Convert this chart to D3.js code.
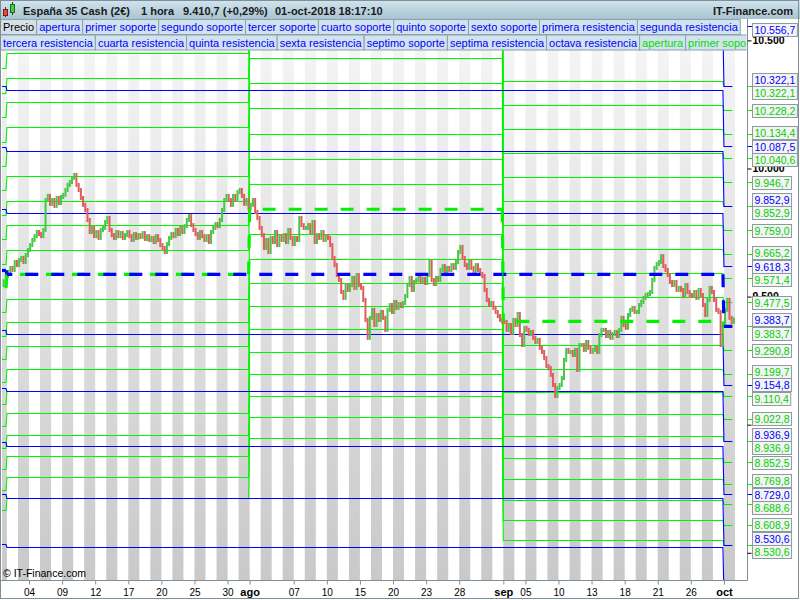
<!DOCTYPE html>
<html><head><meta charset="utf-8">
<script src="https://cdn.jsdelivr.net/npm/d3@7"></script>
<style>body{margin:0;background:#fff}svg{display:block;font-family:"Liberation Sans",Arial,sans-serif}</style>
</head><body><svg id="c" width="800" height="600"></svg>
<script>
// ---------------- DATA ----------------
const instrument = "España 35 Cash (2€)";
const timeframe = "1 hora";
const lastPrice = 9410.7;
const lastChangePct = 0.29;
const timestamp = "01-oct-2018 18:17:10";

// month periods in trading-day units (0 = 2 jul 2018)
const monthNames = ["jun", "jul", "ago", "sep", "oct"];
const monthStart = [-0.45, 0, 22, 45, 65];
const monthEnd = [0, 22, 45, 65, 65.85];

// x axis ticks (trading-day index) and labels
const tickDays = [2, 5, 8, 11, 14, 17, 20, 22, 26, 29, 32, 35, 38, 41, 45, 47, 50, 53, 56, 59, 62, 65];
const tickLabels = ["04","09","12","17","20","25","30","ago","07","10","15","20","23","28","sep","05","10","13","18","21","26","oct"];
const yTicks = [8500, 9000, 9500, 10000, 10500];

// monthly levels (green), one value per month: jun, jul, ago, sep, oct
const greenApertura = [9533, 9587, 9841, 9403, 9383.7];
const greenR1  = [9628.3, 9682.9, 9939.4, 9497.0, 9477.5];
const greenR2  = [9723.7, 9778.7, 10037.8, 9591.1, 9571.4];
const greenR3  = [9819.0, 9874.6, 10136.2, 9685.1, 9665.2];
const greenR4  = [9914.3, 9970.5, 10234.6, 9779.1, 9759.0];
const greenR5  = [10009.7, 10066.4, 10333.1, 9873.2, 9852.9];
const greenR6  = [10105.0, 10162.2, 10431.5, 9967.2, 9946.7];
const greenR7  = [10200.3, 10258.1, 10529.9, 10061.2, 10040.6];
const greenR8  = [10295.6, 10354.0, 10628.3, 10155.2, 10134.4];
const greenR9  = [10391.0, 10449.8, 10726.7, 10249.3, 10228.2];
const greenR10 = [10486.3, 10545.7, 10825.1, 10343.3, 10322.1];
const greenS1  = [9438.6, 9492.1, 9743.6, 9309.9, 9290.8];
const greenS2  = [9346.1, 9399.0, 9648.0, 9218.6, 9199.7];
const greenS3  = [9255.3, 9307.8, 9554.4, 9129.1, 9110.4];
const greenS4  = [9166.3, 9218.3, 9462.5, 9041.3, 9022.8];
const greenS5  = [9079.0, 9130.5, 9372.4, 8955.2, 8936.9];
const greenS6  = [8993.4, 9044.3, 9284.0, 8870.8, 8852.5];
const greenS7  = [8909.3, 8959.8, 9197.2, 8787.9, 8769.8];
const greenS8  = [8826.9, 8876.9, 9112.0, 8706.5, 8688.6];
const greenS9  = [8745.9, 8795.4, 9028.4, 8626.6, 8608.9];
const greenS10 = [8666.4, 8715.5, 8946.4, 8548.2, 8530.6];

// quarterly levels (blue), one value per month: jun, jul, ago, sep, oct
const blueApertura = [9602, 9587, 9587, 9587, 9383.7];
const blueR1 = [9842.1, 9826.7, 9826.7, 9826.7, 9618.3];
const blueR2 = [10082.1, 10066.4, 10066.4, 10066.4, 9852.9];
const blueR3 = [10322.2, 10306.0, 10306.0, 10306.0, 10087.5];
const blueR4 = [10562.2, 10545.7, 10545.7, 10545.7, 10322.1];
const blueR5 = [10802.3, 10785.4, 10785.4, 10785.4, 10556.7];
const blueS1 = [9367.8, 9353.2, 9353.2, 9353.2, 9154.8];
const blueS2 = [9144.8, 9130.5, 9130.5, 9130.5, 8936.9];
const blueS3 = [8932.1, 8918.1, 8918.1, 8918.1, 8729.0];
const blueS4 = [8729.1, 8715.5, 8715.5, 8715.5, 8530.6];
const blueS5 = [8535.1, 8521.8, 8521.8, 8521.8, 8341.1];
const blueS6 = [8349.6, 8336.5, 8336.5, 8336.5, 8159.7];

// price (bar closes, 5 per session; first two = end of 29 jun)
const barsPerDay = 5;
const firstOpen = 9545;
const priceCloses = [
 9560, 9580,
 9596, 9612, 9604, 9635, 9623,  9643, 9651, 9635, 9662, 9682,  9701, 9721, 9736, 9752, 9744,
 9736, 9760, 9877, 9893, 9862,  9877, 9854, 9885, 9865, 9889,  9897, 9916, 9936, 9947, 9963,
 9975, 9936, 9916, 9885, 9858,  9838, 9799, 9752, 9768, 9736,  9752, 9729, 9760, 9768, 9791,
 9807, 9760, 9740, 9729, 9752,  9736, 9748, 9729, 9740, 9752,  9736, 9721, 9744, 9729, 9740,
 9733, 9748, 9725, 9736, 9721,  9729, 9713, 9736, 9721, 9701,  9690, 9674, 9705, 9729, 9744,
 9736, 9760, 9744, 9768, 9752,  9775, 9799, 9814, 9779, 9760,  9744, 9729, 9752, 9736, 9721,
 9736, 9713, 9752, 9768, 9783,  9775, 9799, 9838, 9877, 9893,  9877, 9858, 9893, 9877, 9908,
 9916, 9893, 9862, 9877, 9846,
 9858, 9877, 9830, 9807, 9768,  9740, 9690, 9721, 9674, 9729,  9713, 9752, 9701, 9736, 9721,
 9740, 9713, 9760, 9729, 9705,  9729, 9721, 9807, 9779, 9768,  9768, 9779, 9752, 9791, 9713,
 9740, 9729, 9752, 9721, 9736,  9729, 9701, 9651, 9623, 9584,  9565, 9518, 9495, 9545, 9526,
 9545, 9573, 9534, 9584, 9545,  9534, 9487, 9409, 9339, 9417,  9448, 9389, 9428, 9409, 9440,
 9417, 9370, 9448, 9467, 9440,  9479, 9456, 9471, 9463, 9475,  9502, 9545, 9573, 9526, 9557,
 9565, 9577, 9557, 9569, 9553,  9584, 9635, 9565, 9549, 9573,  9565, 9604, 9619, 9596, 9612,
 9604, 9623, 9612, 9635, 9674,  9694, 9651, 9623, 9612, 9635,  9612, 9596, 9623, 9604, 9588,
 9580, 9526, 9487, 9467, 9475,  9456, 9440, 9424, 9409, 9402,
 9401, 9370, 9389, 9358, 9409,  9389, 9432, 9350, 9311, 9378,  9370, 9354, 9362, 9339, 9323,
 9331, 9300, 9284, 9260, 9229,  9221, 9194, 9155, 9112, 9143,  9155, 9182, 9253, 9292, 9284,
 9284, 9272, 9292, 9214, 9311,  9311, 9292, 9323, 9300, 9284,  9292, 9300, 9284, 9350, 9370,
 9370, 9346, 9362, 9339, 9354,  9362, 9346, 9370, 9417, 9389,  9378, 9428, 9448, 9456, 9440,
 9440, 9467, 9479, 9495, 9506,  9510, 9518, 9565, 9612, 9627,  9635, 9658, 9619, 9604, 9584,
 9557, 9545, 9557, 9526, 9534,  9526, 9502, 9545, 9518, 9506,  9502, 9518, 9495, 9526, 9506,
 9467, 9428, 9487, 9534, 9518,  9487, 9448, 9440, 9311, 9385,
 9448, 9487, 9417, 9401, 9410.7
];

// legend
const legendRow1 = ["Precio","apertura","primer soporte","segundo soporte","tercer soporte","cuarto soporte","quinto soporte","sexto soporte","primera resistencia","segunda resistencia"];
const legendRow1Kind = ["price","blue","blue","blue","blue","blue","blue","blue","blue","blue"];
const legendRow2 = ["tercera resistencia","cuarta resistencia","quinta resistencia","sexta resistencia","septimo soporte","septima resistencia","octava resistencia","apertura","primer soporte"];
const legendRow2Kind = ["blue","blue","blue","blue","blue","blue","blue","green","green"];

// ---------------- CHART ----------------
const W = 800, H = 600;
const plotL = 2, plotR = 746, plotT = 20, plotB = 580;
const GREEN = "#00f400", BLUE = "#0000ff", FRAME = "#7f8f98";
const loc = d3.formatLocale({decimal: ",", thousands: ".", grouping: [3], currency: ["", "€"]});
const fmtLevel = loc.format(",.1f"), fmtTick = loc.format(",.0f"), fmtPct = loc.format("+.2f");

const x = d3.scaleLinear().domain([-0.45, 67]).range([plotL, plotR]);
const y = d3.scaleLinear().domain([8400, 10500]).range([578.4, 40.4]);

const svg = d3.select("#c");
const defs = svg.append("defs");
defs.append("clipPath").attr("id", "plotClip").append("rect")
  .attr("x", plotL).attr("y", plotT).attr("width", plotR - plotL).attr("height", plotB - plotT);
defs.append("clipPath").attr("id", "legClip").append("rect")
  .attr("x", 0).attr("y", 0).attr("width", plotR + 0.5).attr("height", 60);
const sg = defs.append("linearGradient").attr("id", "stripeGrad").attr("gradientUnits", "userSpaceOnUse")
  .attr("x1", 0).attr("x2", 0).attr("y1", 50).attr("y2", 580);
sg.append("stop").attr("offset", 0).attr("stop-color", "#f4f4f4");
sg.append("stop").attr("offset", 1).attr("stop-color", "#c9c9c9");
const hg = defs.append("linearGradient").attr("id", "headGrad").attr("x1", 0).attr("x2", 0).attr("y1", 0).attr("y2", 1);
hg.append("stop").attr("offset", 0).attr("stop-color", "#d2e5ef");
hg.append("stop").attr("offset", 1).attr("stop-color", "#a8c3d0");

svg.append("rect").attr("width", W).attr("height", H).attr("fill", "#fff");

const plot = svg.append("g").attr("clip-path", "url(#plotClip)");

// day stripes
const oddDays = d3.range(-1, 67).filter(d => Math.abs(d) % 2 === 1);
plot.append("g").selectAll("rect").data(oddDays).join("rect")
  .attr("x", d => Math.max(plotL, x(d)))
  .attr("width", d => Math.min(plotR, x(d + 1)) - Math.max(plotL, x(d)))
  .attr("y", 50).attr("height", plotB - 50)
  .attr("fill", "url(#stripeGrad)");

// level lines
const snapY = v => Math.round(y(v)) + 0.5;
function levelPoints(vals) {
  const pts = [];
  vals.forEach((v, m) => {
    pts.push([x(monthStart[m]), snapY(v)]);
    pts.push([x(monthEnd[m]) - 1, snapY(v)]);
  });
  return pts;
}
const line = d3.line();
const greenSeries = [greenS10, greenS9, greenS8, greenS7, greenS6, greenS5, greenS4, greenS3, greenS2, greenS1,
                     greenR1, greenR2, greenR3, greenR4, greenR5, greenR6, greenR7, greenR8, greenR9, greenR10];
const blueSeries = [blueS6, blueS5, blueS4, blueS3, blueS2, blueS1, blueR1, blueR2, blueR3, blueR4, blueR5];

plot.append("g").selectAll("path").data(greenSeries).join("path")
  .attr("d", d => line(levelPoints(d))).attr("fill", "none").attr("stroke", GREEN).attr("stroke-width", 1.1);
plot.append("g").selectAll("path").data(blueSeries).join("path")
  .attr("d", d => line(levelPoints(d))).attr("fill", "none").attr("stroke", BLUE).attr("stroke-width", 1.1);

// price bars
const bars = priceCloses.map((c, k) => ({pos: (k - 1.5) / barsPerDay, o: k === 0 ? firstOpen : priceCloses[k - 1], c}));
plot.append("g").selectAll("rect").data(bars).join("rect")
  .attr("x", d => x(d.pos) - 1).attr("width", 2)
  .attr("y", d => Math.min(y(d.o), y(d.c)) - 2)
  .attr("height", d => Math.abs(y(d.o) - y(d.c)) + 4)
  .attr("fill", d => d.c >= d.o ? "#45c845" : "#e05c5c");

// dashed apertura lines
function dashed(vals, color, phaseFn) {
  const g = plot.append("g").attr("fill", "none").attr("stroke", color).attr("stroke-width", 3.2)
    .attr("stroke-dasharray", "13,13");
  vals.forEach((v, m) => {
    const xs = x(monthStart[m]), xe = x(monthEnd[m]) - 1;
    if (m > 0 && v !== vals[m - 1]) {
      g.append("path").attr("d", line([[xs - 1, y(vals[m - 1])], [xs, y(v)]]));
    }
    g.append("path").attr("d", line([[xs, y(v)], [xe, y(v)]]))
      .attr("stroke-dashoffset", phaseFn(m, xs));
  });
}
dashed(greenApertura, GREEN, (m, xs) => m === 4 ? 0 : 13);
dashed(blueApertura, BLUE, (m, xs) => m === 4 ? 0 : ((xs + 0.7) % 26));

// ---------------- legend ----------------
const kindColor = {price: "#000", blue: "#0000ff", green: "#00dd00"};
const leg = svg.append("g").attr("clip-path", "url(#legClip)").style("font-size", "11px");
[[legendRow1, legendRow1Kind], [legendRow2, legendRow2Kind]].forEach(([row, kinds], r) => {
  let cx = 0.5;
  const ry = 19.5 + r * 15.5;
  row.forEach((name, i) => {
    const g = leg.append("g");
    const rect = g.append("rect").attr("x", cx).attr("y", ry).attr("height", 15)
      .attr("fill", kinds[i] === "price" ? "#d6e0e6" : "#d2e3ed").attr("stroke", "#8aa2b0");
    const t = g.append("text").attr("x", cx + 2.5).attr("y", ry + 11.5).attr("fill", kindColor[kinds[i]]).text(name);
    const w = t.node().getComputedTextLength() + 5;
    rect.attr("width", w);
    cx += w;
  });
});

// ---------------- header ----------------
svg.append("rect").attr("x", 0).attr("y", 0).attr("width", W).attr("height", 19).attr("fill", "url(#headGrad)");
const icon = svg.append("g");
icon.append("line").attr("x1", 5.5).attr("x2", 5.5).attr("y1", 7).attr("y2", 17).attr("stroke", "#333");
icon.append("rect").attr("x", 3.5).attr("y", 9.5).attr("width", 4).attr("height", 6).attr("fill", "#e84a4a").attr("stroke", "#7a2020");
icon.append("line").attr("x1", 12.5).attr("x2", 12.5).attr("y1", 2).attr("y2", 15).attr("stroke", "#333");
icon.append("rect").attr("x", 10.5).attr("y", 4.5).attr("width", 4).attr("height", 8).attr("fill", "#3fcf3f").attr("stroke", "#1d6b1d");
const head = svg.append("text").attr("y", 14.5).style("font-size", "11px").style("font-weight", "bold").attr("fill", "#1a1a1a");
head.append("tspan").attr("x", 23).text(instrument);
head.append("tspan").attr("x", 141).text(timeframe);
head.append("tspan").attr("x", 183).text(`${fmtLevel(lastPrice)} (${fmtPct(lastChangePct)}%)`);
head.append("tspan").attr("x", 275).text(timestamp);
svg.append("text").attr("x", 793).attr("y", 14.5).attr("text-anchor", "end").style("font-size", "11px")
  .style("font-weight", "bold").attr("fill", "#1a1a1a").text("IT-Finance.com");

// ---------------- frame ----------------
svg.append("line").attr("x1", 0).attr("x2", 747.5).attr("y1", 580.5).attr("y2", 580.5).attr("stroke", FRAME);
svg.append("line").attr("x1", 747.5).attr("x2", 747.5).attr("y1", 19).attr("y2", 580.5).attr("stroke", FRAME);
svg.append("rect").attr("x", 0.5).attr("y", 0.5).attr("width", 798).attr("height", 598)
  .attr("fill", "none").attr("stroke", FRAME);

// level value labels (October) - layout first
const labels = [];
[[blueApertura, "b"], ...blueSeries.map(s => [s, "b"]), [greenApertura, "g"], ...greenSeries.map(s => [s, "g"])]
  .forEach(([s, c]) => {
    const v = s[4], y0 = y(v);
    if (y0 >= plotT && y0 <= plotB) labels.push({v, c, y0, y: y0});
  });
labels.sort((a, b) => (a.y0 - b.y0) || (a.c === "b" ? -1 : 1));
const gap = 13.6;
for (let it = 0; it < 300; it++) {
  for (let i = 1; i < labels.length; i++) {
    const d = labels[i].y - labels[i - 1].y;
    if (d < gap) { const s = (gap - d) / 2; labels[i - 1].y -= s; labels[i].y += s; }
  }
  if (labels[0].y < 29) labels[0].y = 29;
}
labels.forEach(l => { l.top = Math.round(l.y - 6.5) + 0.5; });

// ---------------- right axis ----------------
const yAxis = d3.axisRight(y).tickValues(yTicks).tickSize(4).tickPadding(1).tickFormat(fmtTick);
const ya = svg.append("g").attr("transform", "translate(747.5,0)").call(yAxis);
ya.select(".domain").remove();
ya.selectAll("text").style("font-size", "10.5px").style("font-weight", "bold").attr("fill", "#000")
  .style("font-family", "'Liberation Sans',Arial,sans-serif");
ya.selectAll("line").attr("stroke", "#000");
// a tick value whose text lies (almost) entirely under level label boxes is not visible: leave it out
const rowCovered = r => labels.some(l => r >= l.top - 2 && r <= l.top + 15);
ya.selectAll(".tick").each(function (d) {
  const ty = y(d);
  let covered = true;
  for (let r = Math.round(ty - 4); r <= Math.round(ty + 4); r++) if (!rowCovered(r)) covered = false;
  if (covered) d3.select(this).select("text").remove();
});

const lg = svg.append("g").style("font-size", "10.5px");
const drawOrder = labels.filter(l => l.c === "b").concat(labels.filter(l => l.c === "g"));
drawOrder.forEach(l => {
  const col = l.c === "b" ? BLUE : "#00d000";
  lg.append("line").attr("x1", 747.5).attr("x2", 752).attr("y1", Math.round(l.y0) + 0.5).attr("y2", Math.round(l.y0) + 0.5)
    .attr("stroke", l.c === "b" ? BLUE : GREEN);
  const g = lg.append("g");
  const r = g.append("rect").attr("x", 752.5).attr("y", l.top).attr("height", 13)
    .attr("fill", "#f4f4f4").attr("stroke", "#8d9aa2");
  const t = g.append("text").attr("x", 754.5).attr("y", l.top + 10.5).attr("fill", col).text(fmtLevel(l.v));
  r.attr("width", t.node().getComputedTextLength() + 4);
});

// ---------------- bottom axis ----------------
const xAxis = d3.axisBottom(x).tickValues(tickDays).tickSize(4).tickPadding(4).tickFormat((d, i) => tickLabels[i]);
const xa = svg.append("g").attr("transform", "translate(0,580.5)").call(xAxis);
xa.select(".domain").remove();
xa.selectAll("line").attr("stroke", FRAME);
xa.selectAll("text").attr("fill", "#000")
  .style("font-family", "'Liberation Sans',Arial,sans-serif")
  .style("font-weight", (d, i) => monthNames.includes(tickLabels[i]) ? "bold" : "normal")
  .style("font-size", (d, i) => monthNames.includes(tickLabels[i]) ? "11px" : "10px");

svg.append("text").attr("x", 3).attr("y", 577).style("font-size", "10.5px").attr("fill", "#000").text("© IT-Finance.com");
</script></body></html>
